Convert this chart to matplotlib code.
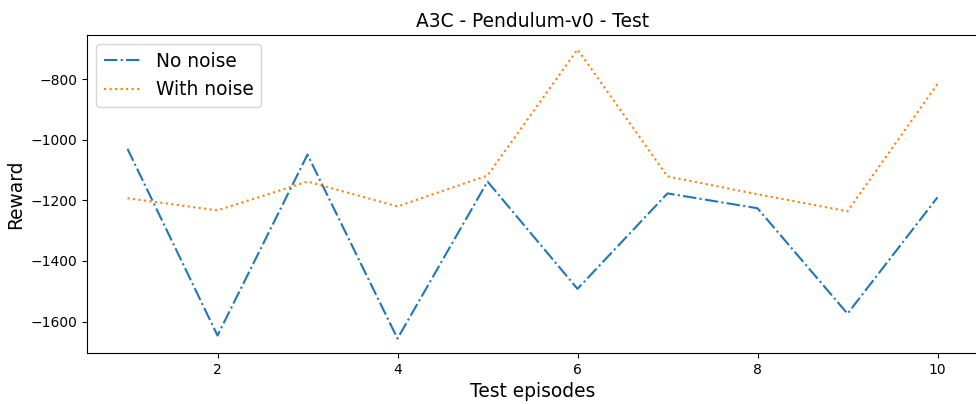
import matplotlib
matplotlib.use("Agg")
import matplotlib.pyplot as plt

# Test episode rewards
episodes = [1, 2, 3, 4, 5, 6, 7, 8, 9, 10]
no_noise = [-1030, -1646, -1049, -1656, -1138, -1492, -1177, -1226, -1574, -1190]
with_noise = [-1193, -1233, -1138, -1220, -1118, -702, -1121, -1180, -1236, -816]

fig = plt.figure(figsize=(9.76, 4.04), dpi=100)
ax = fig.add_axes([87 / 976, 1 - 353 / 404, 891 / 976, 318 / 404])

ax.plot(episodes, no_noise, '-.', color='#1f77b4', label='No noise')
ax.plot(episodes, with_noise, ':', color='#ff7f0e', label='With noise')

ax.set_title('A3C - Pendulum-v0 - Test', fontsize=13.4)
ax.set_xlabel('Test episodes', fontsize=13.4)
ax.set_ylabel('Reward', fontsize=13.4)
ax.legend(loc='upper left', fontsize=13.4)

fig.savefig('out.png', dpi=100)
